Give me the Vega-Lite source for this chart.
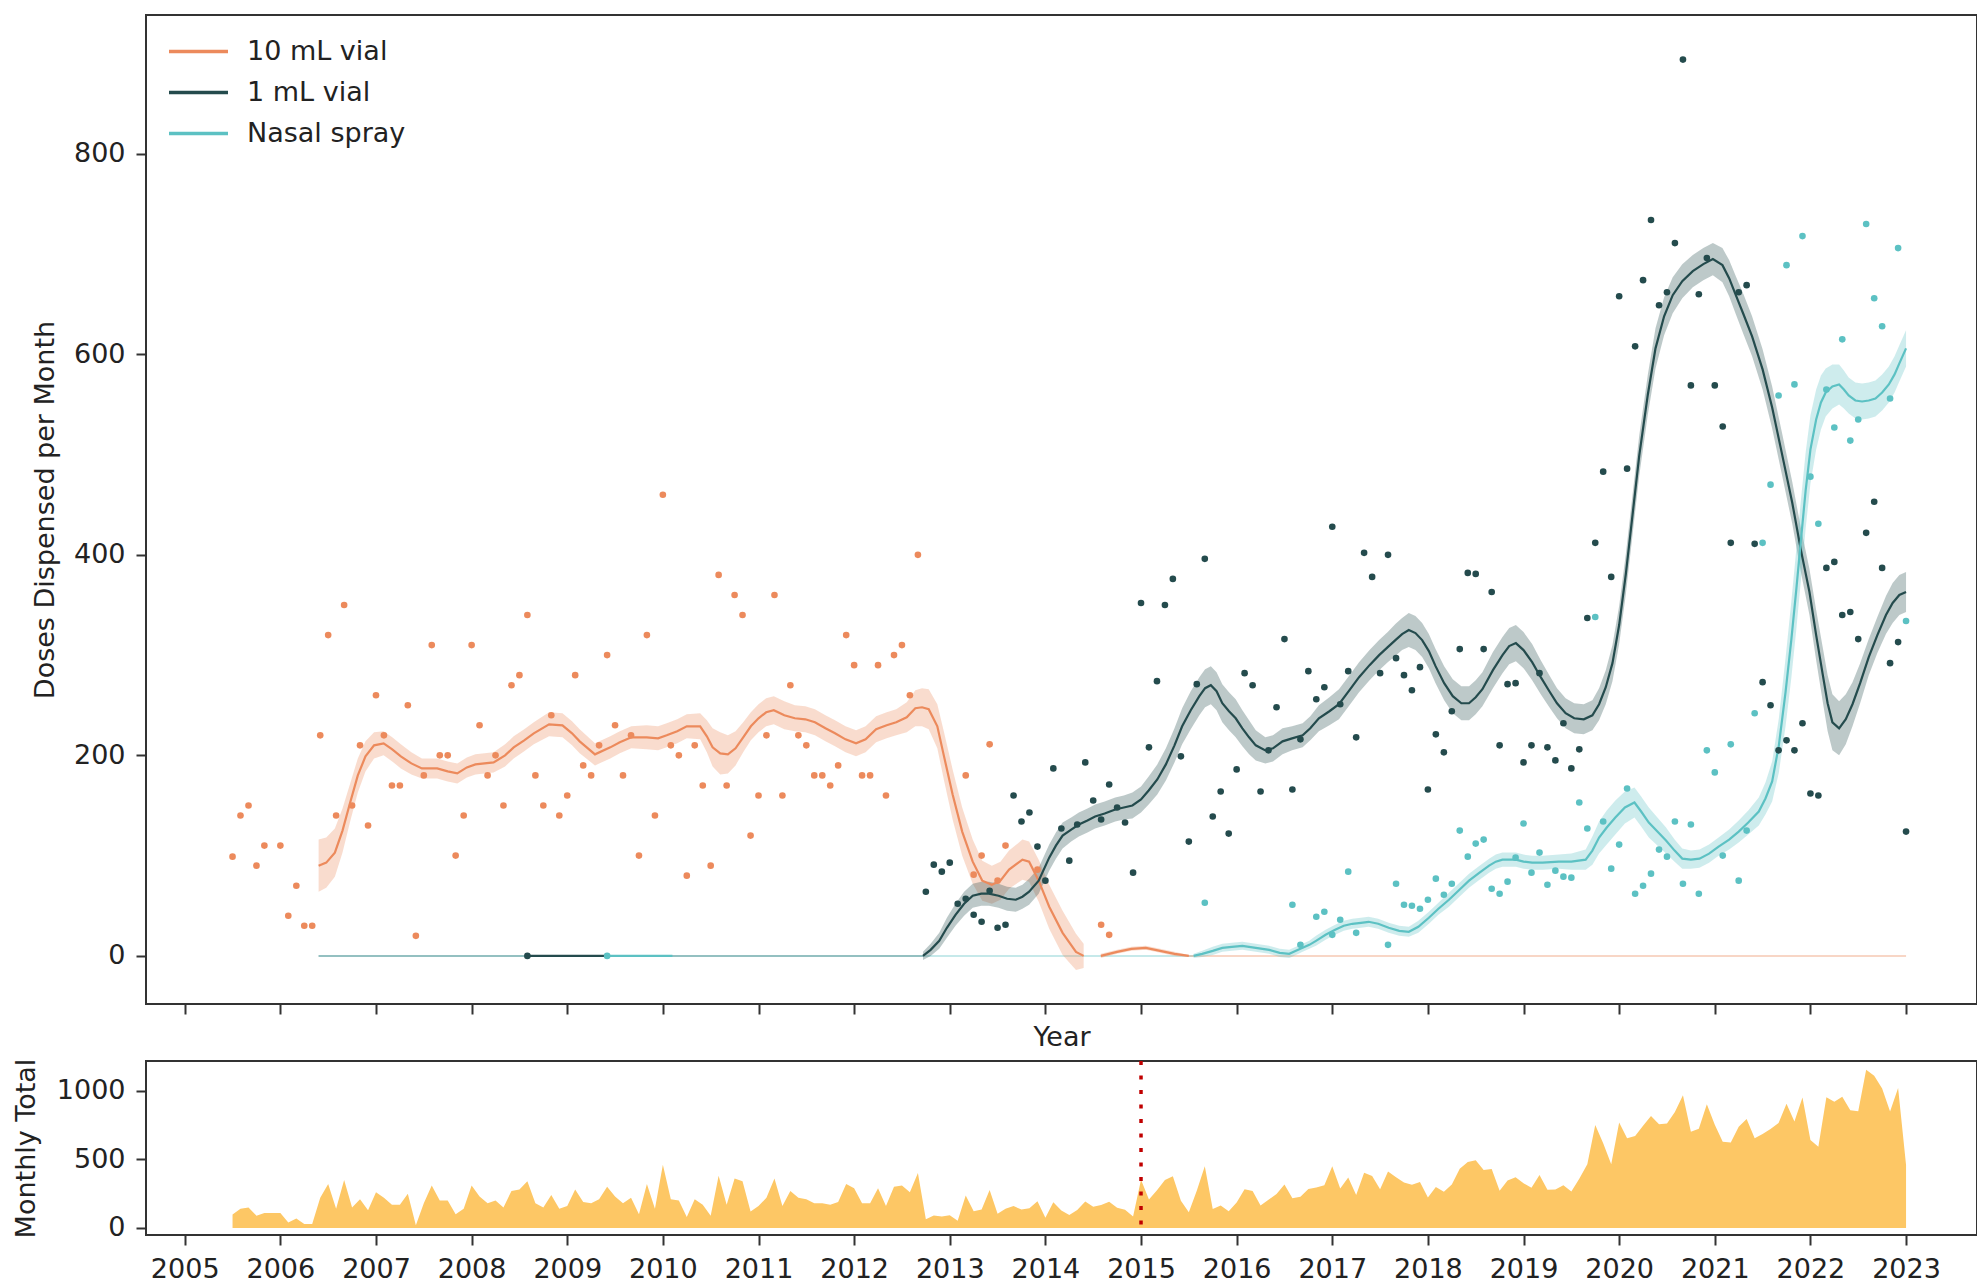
{
"$schema": "https://vega.github.io/schema/vega-lite/v6.json",
"background": "white",
"padding": {"left": 11, "top": 14, "right": 0, "bottom": 0},
"bounds": "flush",
"spacing": 57,
"datasets": {
"zeros": [
{"series": "1 mL vial", "t0": 2006.4, "t1": 2012.72},
{"series": "Nasal spray", "t0": 2006.4, "t1": 2015.55},
{"series": "10 mL vial", "t0": 2015.5, "t1": 2023.0}
],
"marker": [{"t": 2015}],
"points": [
{"series":"10 mL vial","t":2005.5,"v":99},{"series":"10 mL vial","t":2005.583,"v":140},{"series":"10 mL vial","t":2005.667,"v":150},{"series":"10 mL vial","t":2005.75,"v":90},{"series":"10 mL vial","t":2005.833,"v":110},{"series":"10 mL vial","t":2006,"v":110},{"series":"10 mL vial","t":2006.083,"v":40},{"series":"10 mL vial","t":2006.167,"v":70},{"series":"10 mL vial","t":2006.25,"v":30},{"series":"10 mL vial","t":2006.333,"v":30},{"series":"10 mL vial","t":2006.417,"v":220},{"series":"10 mL vial","t":2006.5,"v":320},{"series":"10 mL vial","t":2006.583,"v":140},{"series":"10 mL vial","t":2006.667,"v":350},{"series":"10 mL vial","t":2006.75,"v":150},{"series":"10 mL vial","t":2006.833,"v":210},{"series":"10 mL vial","t":2006.917,"v":130},
{"series":"10 mL vial","t":2007,"v":260},{"series":"10 mL vial","t":2007.083,"v":220},{"series":"10 mL vial","t":2007.167,"v":170},{"series":"10 mL vial","t":2007.25,"v":170},{"series":"10 mL vial","t":2007.333,"v":250},{"series":"10 mL vial","t":2007.417,"v":20},{"series":"10 mL vial","t":2007.5,"v":180},{"series":"10 mL vial","t":2007.583,"v":310},{"series":"10 mL vial","t":2007.667,"v":200},{"series":"10 mL vial","t":2007.75,"v":200},{"series":"10 mL vial","t":2007.833,"v":100},{"series":"10 mL vial","t":2007.917,"v":140},
{"series":"10 mL vial","t":2008,"v":310},{"series":"10 mL vial","t":2008.083,"v":230},{"series":"10 mL vial","t":2008.167,"v":180},{"series":"10 mL vial","t":2008.25,"v":200},{"series":"10 mL vial","t":2008.333,"v":150},{"series":"10 mL vial","t":2008.417,"v":270},{"series":"10 mL vial","t":2008.5,"v":280},{"series":"10 mL vial","t":2008.583,"v":340},{"series":"10 mL vial","t":2008.667,"v":180},{"series":"10 mL vial","t":2008.75,"v":150},{"series":"10 mL vial","t":2008.833,"v":240},{"series":"10 mL vial","t":2008.917,"v":140},
{"series":"10 mL vial","t":2009,"v":160},{"series":"10 mL vial","t":2009.083,"v":280},{"series":"10 mL vial","t":2009.167,"v":190},{"series":"10 mL vial","t":2009.25,"v":180},{"series":"10 mL vial","t":2009.333,"v":210},{"series":"10 mL vial","t":2009.417,"v":300},{"series":"10 mL vial","t":2009.5,"v":230},{"series":"10 mL vial","t":2009.583,"v":180},{"series":"10 mL vial","t":2009.667,"v":220},{"series":"10 mL vial","t":2009.75,"v":100},{"series":"10 mL vial","t":2009.833,"v":320},{"series":"10 mL vial","t":2009.917,"v":140},
{"series":"10 mL vial","t":2010,"v":460},{"series":"10 mL vial","t":2010.083,"v":210},{"series":"10 mL vial","t":2010.167,"v":200},{"series":"10 mL vial","t":2010.25,"v":80},{"series":"10 mL vial","t":2010.333,"v":210},{"series":"10 mL vial","t":2010.417,"v":170},{"series":"10 mL vial","t":2010.5,"v":90},{"series":"10 mL vial","t":2010.583,"v":380},{"series":"10 mL vial","t":2010.667,"v":170},{"series":"10 mL vial","t":2010.75,"v":360},{"series":"10 mL vial","t":2010.833,"v":340},{"series":"10 mL vial","t":2010.917,"v":120},
{"series":"10 mL vial","t":2011,"v":160},{"series":"10 mL vial","t":2011.083,"v":220},{"series":"10 mL vial","t":2011.167,"v":360},{"series":"10 mL vial","t":2011.25,"v":160},{"series":"10 mL vial","t":2011.333,"v":270},{"series":"10 mL vial","t":2011.417,"v":220},{"series":"10 mL vial","t":2011.5,"v":210},{"series":"10 mL vial","t":2011.583,"v":180},{"series":"10 mL vial","t":2011.667,"v":180},{"series":"10 mL vial","t":2011.75,"v":170},{"series":"10 mL vial","t":2011.833,"v":190},{"series":"10 mL vial","t":2011.917,"v":320},
{"series":"10 mL vial","t":2012,"v":290},{"series":"10 mL vial","t":2012.083,"v":180},{"series":"10 mL vial","t":2012.167,"v":180},{"series":"10 mL vial","t":2012.25,"v":290},{"series":"10 mL vial","t":2012.333,"v":160},{"series":"10 mL vial","t":2012.417,"v":300},{"series":"10 mL vial","t":2012.5,"v":310},{"series":"10 mL vial","t":2012.583,"v":260},{"series":"10 mL vial","t":2012.667,"v":400},
{"series":"10 mL vial","t":2013.167,"v":180},{"series":"10 mL vial","t":2013.25,"v":81},{"series":"10 mL vial","t":2013.333,"v":100},{"series":"10 mL vial","t":2013.417,"v":211},{"series":"10 mL vial","t":2013.5,"v":75},{"series":"10 mL vial","t":2013.583,"v":110},{"series":"10 mL vial","t":2013.917,"v":86},{"series":"10 mL vial","t":2014.583,"v":31},{"series":"10 mL vial","t":2014.667,"v":21},
{"series":"1 mL vial","t":2008.583,"v":0},
{"series":"1 mL vial","t":2012.75,"v":64},{"series":"1 mL vial","t":2012.833,"v":91},{"series":"1 mL vial","t":2012.917,"v":84},{"series":"1 mL vial","t":2013,"v":93},{"series":"1 mL vial","t":2013.083,"v":52},{"series":"1 mL vial","t":2013.167,"v":57},{"series":"1 mL vial","t":2013.25,"v":41},{"series":"1 mL vial","t":2013.333,"v":34},{"series":"1 mL vial","t":2013.417,"v":65},{"series":"1 mL vial","t":2013.5,"v":28},{"series":"1 mL vial","t":2013.583,"v":31},{"series":"1 mL vial","t":2013.667,"v":160},{"series":"1 mL vial","t":2013.75,"v":134},{"series":"1 mL vial","t":2013.833,"v":143},{"series":"1 mL vial","t":2013.917,"v":109},
{"series":"1 mL vial","t":2014,"v":75},{"series":"1 mL vial","t":2014.083,"v":187},{"series":"1 mL vial","t":2014.167,"v":127},{"series":"1 mL vial","t":2014.25,"v":95},{"series":"1 mL vial","t":2014.333,"v":131},{"series":"1 mL vial","t":2014.417,"v":193},{"series":"1 mL vial","t":2014.5,"v":155},{"series":"1 mL vial","t":2014.583,"v":136},{"series":"1 mL vial","t":2014.667,"v":171},{"series":"1 mL vial","t":2014.75,"v":148},{"series":"1 mL vial","t":2014.833,"v":133},{"series":"1 mL vial","t":2014.917,"v":83},
{"series":"1 mL vial","t":2015,"v":352},{"series":"1 mL vial","t":2015.083,"v":208},{"series":"1 mL vial","t":2015.167,"v":274},{"series":"1 mL vial","t":2015.25,"v":350},{"series":"1 mL vial","t":2015.333,"v":376},{"series":"1 mL vial","t":2015.417,"v":199},{"series":"1 mL vial","t":2015.5,"v":114},{"series":"1 mL vial","t":2015.583,"v":271},{"series":"1 mL vial","t":2015.667,"v":396},{"series":"1 mL vial","t":2015.75,"v":139},{"series":"1 mL vial","t":2015.833,"v":164},{"series":"1 mL vial","t":2015.917,"v":122},
{"series":"1 mL vial","t":2016,"v":186},{"series":"1 mL vial","t":2016.083,"v":282},{"series":"1 mL vial","t":2016.167,"v":270},{"series":"1 mL vial","t":2016.25,"v":164},{"series":"1 mL vial","t":2016.333,"v":205},{"series":"1 mL vial","t":2016.417,"v":248},{"series":"1 mL vial","t":2016.5,"v":316},{"series":"1 mL vial","t":2016.583,"v":166},{"series":"1 mL vial","t":2016.667,"v":216},{"series":"1 mL vial","t":2016.75,"v":284},{"series":"1 mL vial","t":2016.833,"v":256},{"series":"1 mL vial","t":2016.917,"v":268},
{"series":"1 mL vial","t":2017,"v":428},{"series":"1 mL vial","t":2017.083,"v":251},{"series":"1 mL vial","t":2017.167,"v":284},{"series":"1 mL vial","t":2017.25,"v":218},{"series":"1 mL vial","t":2017.333,"v":402},{"series":"1 mL vial","t":2017.417,"v":378},{"series":"1 mL vial","t":2017.5,"v":282},{"series":"1 mL vial","t":2017.583,"v":400},{"series":"1 mL vial","t":2017.667,"v":297},{"series":"1 mL vial","t":2017.75,"v":280},{"series":"1 mL vial","t":2017.833,"v":265},{"series":"1 mL vial","t":2017.917,"v":288},
{"series":"1 mL vial","t":2018,"v":166},{"series":"1 mL vial","t":2018.083,"v":221},{"series":"1 mL vial","t":2018.167,"v":203},{"series":"1 mL vial","t":2018.25,"v":244},{"series":"1 mL vial","t":2018.333,"v":306},{"series":"1 mL vial","t":2018.417,"v":382},{"series":"1 mL vial","t":2018.5,"v":381},{"series":"1 mL vial","t":2018.583,"v":306},{"series":"1 mL vial","t":2018.667,"v":363},{"series":"1 mL vial","t":2018.75,"v":210},{"series":"1 mL vial","t":2018.833,"v":271},{"series":"1 mL vial","t":2018.917,"v":272},
{"series":"1 mL vial","t":2019,"v":193},{"series":"1 mL vial","t":2019.083,"v":210},{"series":"1 mL vial","t":2019.167,"v":282},{"series":"1 mL vial","t":2019.25,"v":208},{"series":"1 mL vial","t":2019.333,"v":195},{"series":"1 mL vial","t":2019.417,"v":232},{"series":"1 mL vial","t":2019.5,"v":187},{"series":"1 mL vial","t":2019.583,"v":206},{"series":"1 mL vial","t":2019.667,"v":337},{"series":"1 mL vial","t":2019.75,"v":412},{"series":"1 mL vial","t":2019.833,"v":483},{"series":"1 mL vial","t":2019.917,"v":378},
{"series":"1 mL vial","t":2020,"v":658},{"series":"1 mL vial","t":2020.083,"v":486},{"series":"1 mL vial","t":2020.167,"v":608},{"series":"1 mL vial","t":2020.25,"v":674},{"series":"1 mL vial","t":2020.333,"v":734},{"series":"1 mL vial","t":2020.417,"v":649},{"series":"1 mL vial","t":2020.5,"v":662},{"series":"1 mL vial","t":2020.583,"v":711},{"series":"1 mL vial","t":2020.667,"v":894},{"series":"1 mL vial","t":2020.75,"v":569},{"series":"1 mL vial","t":2020.833,"v":660},{"series":"1 mL vial","t":2020.917,"v":696},
{"series":"1 mL vial","t":2021,"v":569},{"series":"1 mL vial","t":2021.083,"v":528},{"series":"1 mL vial","t":2021.167,"v":412},{"series":"1 mL vial","t":2021.25,"v":662},{"series":"1 mL vial","t":2021.333,"v":669},{"series":"1 mL vial","t":2021.417,"v":411},{"series":"1 mL vial","t":2021.5,"v":273},{"series":"1 mL vial","t":2021.583,"v":250},{"series":"1 mL vial","t":2021.667,"v":205},{"series":"1 mL vial","t":2021.75,"v":215},{"series":"1 mL vial","t":2021.833,"v":205},{"series":"1 mL vial","t":2021.917,"v":232},
{"series":"1 mL vial","t":2022,"v":162},{"series":"1 mL vial","t":2022.083,"v":160},{"series":"1 mL vial","t":2022.167,"v":387},{"series":"1 mL vial","t":2022.25,"v":393},{"series":"1 mL vial","t":2022.333,"v":340},{"series":"1 mL vial","t":2022.417,"v":343},{"series":"1 mL vial","t":2022.5,"v":316},{"series":"1 mL vial","t":2022.583,"v":422},{"series":"1 mL vial","t":2022.667,"v":453},{"series":"1 mL vial","t":2022.75,"v":387},{"series":"1 mL vial","t":2022.833,"v":292},{"series":"1 mL vial","t":2022.917,"v":313},{"series":"1 mL vial","t":2023,"v":124},
{"series":"Nasal spray","t":2009.417,"v":0},
{"series":"Nasal spray","t":2015.667,"v":53},{"series":"Nasal spray","t":2016.583,"v":51},{"series":"Nasal spray","t":2016.667,"v":11},{"series":"Nasal spray","t":2016.833,"v":39},{"series":"Nasal spray","t":2016.917,"v":44},
{"series":"Nasal spray","t":2017,"v":21},{"series":"Nasal spray","t":2017.083,"v":36},{"series":"Nasal spray","t":2017.167,"v":84},{"series":"Nasal spray","t":2017.25,"v":23},{"series":"Nasal spray","t":2017.583,"v":11},{"series":"Nasal spray","t":2017.667,"v":72},{"series":"Nasal spray","t":2017.75,"v":51},{"series":"Nasal spray","t":2017.833,"v":50},{"series":"Nasal spray","t":2017.917,"v":47},
{"series":"Nasal spray","t":2018,"v":56},{"series":"Nasal spray","t":2018.083,"v":77},{"series":"Nasal spray","t":2018.167,"v":61},{"series":"Nasal spray","t":2018.25,"v":72},{"series":"Nasal spray","t":2018.333,"v":125},{"series":"Nasal spray","t":2018.417,"v":99},{"series":"Nasal spray","t":2018.5,"v":112},{"series":"Nasal spray","t":2018.583,"v":116},{"series":"Nasal spray","t":2018.667,"v":67},{"series":"Nasal spray","t":2018.75,"v":62},{"series":"Nasal spray","t":2018.833,"v":74},{"series":"Nasal spray","t":2018.917,"v":98},
{"series":"Nasal spray","t":2019,"v":132},{"series":"Nasal spray","t":2019.083,"v":83},{"series":"Nasal spray","t":2019.167,"v":103},{"series":"Nasal spray","t":2019.25,"v":71},{"series":"Nasal spray","t":2019.333,"v":85},{"series":"Nasal spray","t":2019.417,"v":79},{"series":"Nasal spray","t":2019.5,"v":78},{"series":"Nasal spray","t":2019.583,"v":153},{"series":"Nasal spray","t":2019.667,"v":127},{"series":"Nasal spray","t":2019.75,"v":338},{"series":"Nasal spray","t":2019.833,"v":134},{"series":"Nasal spray","t":2019.917,"v":87},
{"series":"Nasal spray","t":2020,"v":111},{"series":"Nasal spray","t":2020.083,"v":167},{"series":"Nasal spray","t":2020.167,"v":62},{"series":"Nasal spray","t":2020.25,"v":70},{"series":"Nasal spray","t":2020.333,"v":82},{"series":"Nasal spray","t":2020.417,"v":106},{"series":"Nasal spray","t":2020.5,"v":99},{"series":"Nasal spray","t":2020.583,"v":134},{"series":"Nasal spray","t":2020.667,"v":72},{"series":"Nasal spray","t":2020.75,"v":131},{"series":"Nasal spray","t":2020.833,"v":62},{"series":"Nasal spray","t":2020.917,"v":205},
{"series":"Nasal spray","t":2021,"v":183},{"series":"Nasal spray","t":2021.083,"v":100},{"series":"Nasal spray","t":2021.167,"v":211},{"series":"Nasal spray","t":2021.25,"v":75},{"series":"Nasal spray","t":2021.333,"v":125},{"series":"Nasal spray","t":2021.417,"v":242},{"series":"Nasal spray","t":2021.5,"v":412},{"series":"Nasal spray","t":2021.583,"v":470},{"series":"Nasal spray","t":2021.667,"v":559},{"series":"Nasal spray","t":2021.75,"v":689},{"series":"Nasal spray","t":2021.833,"v":570},{"series":"Nasal spray","t":2021.917,"v":718},
{"series":"Nasal spray","t":2022,"v":478},{"series":"Nasal spray","t":2022.083,"v":431},{"series":"Nasal spray","t":2022.167,"v":565},{"series":"Nasal spray","t":2022.25,"v":527},{"series":"Nasal spray","t":2022.333,"v":615},{"series":"Nasal spray","t":2022.417,"v":514},{"series":"Nasal spray","t":2022.5,"v":535},{"series":"Nasal spray","t":2022.583,"v":730},{"series":"Nasal spray","t":2022.667,"v":656},{"series":"Nasal spray","t":2022.75,"v":628},{"series":"Nasal spray","t":2022.833,"v":556},{"series":"Nasal spray","t":2022.917,"v":706},{"series":"Nasal spray","t":2023,"v":334}
],
"smooth": [
{"series":"10 mL vial","seg":"a","t":2006.4,"y":90,"lo":64,"hi":116},{"series":"10 mL vial","seg":"a","t":2006.48,"y":93,"lo":68,"hi":118},{"series":"10 mL vial","seg":"a","t":2006.57,"y":103,"lo":79,"hi":127},{"series":"10 mL vial","seg":"a","t":2006.65,"y":125,"lo":103,"hi":147},{"series":"10 mL vial","seg":"a","t":2006.73,"y":153,"lo":134,"hi":172},{"series":"10 mL vial","seg":"a","t":2006.81,"y":180,"lo":163,"hi":197},{"series":"10 mL vial","seg":"a","t":2006.89,"y":199,"lo":184,"hi":214},{"series":"10 mL vial","seg":"a","t":2006.98,"y":210,"lo":197,"hi":223},{"series":"10 mL vial","seg":"a","t":2007.08,"y":212,"lo":200,"hi":224},{"series":"10 mL vial","seg":"a","t":2007.17,"y":206,"lo":194,"hi":218},{"series":"10 mL vial","seg":"a","t":2007.26,"y":199,"lo":187,"hi":211},{"series":"10 mL vial","seg":"a","t":2007.37,"y":192,"lo":181,"hi":203},{"series":"10 mL vial","seg":"a","t":2007.48,"y":187,"lo":177,"hi":197},{"series":"10 mL vial","seg":"a","t":2007.64,"y":187,"lo":177,"hi":197},{"series":"10 mL vial","seg":"a","t":2007.75,"y":184,"lo":174,"hi":194},{"series":"10 mL vial","seg":"a","t":2007.85,"y":182,"lo":172,"hi":192},{"series":"10 mL vial","seg":"a","t":2007.95,"y":188,"lo":178,"hi":198},{"series":"10 mL vial","seg":"a","t":2008.04,"y":191,"lo":181,"hi":201},{"series":"10 mL vial","seg":"a","t":2008.23,"y":193,"lo":183,"hi":203},{"series":"10 mL vial","seg":"a","t":2008.35,"y":200,"lo":189,"hi":211},{"series":"10 mL vial","seg":"a","t":2008.44,"y":208,"lo":197,"hi":219},{"series":"10 mL vial","seg":"a","t":2008.55,"y":215,"lo":204,"hi":226},{"series":"10 mL vial","seg":"a","t":2008.65,"y":222,"lo":211,"hi":233},{"series":"10 mL vial","seg":"a","t":2008.81,"y":231,"lo":219,"hi":243},{"series":"10 mL vial","seg":"a","t":2008.95,"y":230,"lo":218,"hi":242},{"series":"10 mL vial","seg":"a","t":2009.05,"y":222,"lo":210,"hi":234},{"series":"10 mL vial","seg":"a","t":2009.13,"y":214,"lo":202,"hi":226},{"series":"10 mL vial","seg":"a","t":2009.29,"y":201,"lo":190,"hi":212},{"series":"10 mL vial","seg":"a","t":2009.45,"y":208,"lo":197,"hi":219},{"series":"10 mL vial","seg":"a","t":2009.55,"y":213,"lo":202,"hi":224},{"series":"10 mL vial","seg":"a","t":2009.67,"y":218,"lo":207,"hi":229},{"series":"10 mL vial","seg":"a","t":2009.83,"y":218,"lo":206,"hi":230},{"series":"10 mL vial","seg":"a","t":2009.95,"y":217,"lo":205,"hi":229},{"series":"10 mL vial","seg":"a","t":2010.04,"y":220,"lo":208,"hi":232},{"series":"10 mL vial","seg":"a","t":2010.15,"y":224,"lo":212,"hi":236},{"series":"10 mL vial","seg":"a","t":2010.25,"y":229,"lo":217,"hi":241},{"series":"10 mL vial","seg":"a","t":2010.39,"y":229,"lo":216,"hi":242},{"series":"10 mL vial","seg":"a","t":2010.46,"y":219,"lo":203,"hi":235},{"series":"10 mL vial","seg":"a","t":2010.52,"y":208,"lo":189,"hi":227},{"series":"10 mL vial","seg":"a","t":2010.6,"y":202,"lo":181,"hi":223},{"series":"10 mL vial","seg":"a","t":2010.68,"y":201,"lo":182,"hi":220},{"series":"10 mL vial","seg":"a","t":2010.76,"y":207,"lo":190,"hi":224},{"series":"10 mL vial","seg":"a","t":2010.84,"y":218,"lo":203,"hi":233},{"series":"10 mL vial","seg":"a","t":2010.92,"y":229,"lo":215,"hi":243},{"series":"10 mL vial","seg":"a","t":2011.0,"y":237,"lo":223,"hi":251},{"series":"10 mL vial","seg":"a","t":2011.08,"y":243,"lo":229,"hi":257},{"series":"10 mL vial","seg":"a","t":2011.16,"y":245,"lo":231,"hi":259},{"series":"10 mL vial","seg":"a","t":2011.27,"y":240,"lo":226,"hi":254},{"series":"10 mL vial","seg":"a","t":2011.38,"y":237,"lo":224,"hi":250},{"series":"10 mL vial","seg":"a","t":2011.49,"y":236,"lo":223,"hi":249},{"series":"10 mL vial","seg":"a","t":2011.59,"y":233,"lo":220,"hi":246},{"series":"10 mL vial","seg":"a","t":2011.7,"y":227,"lo":214,"hi":240},{"series":"10 mL vial","seg":"a","t":2011.8,"y":222,"lo":209,"hi":235},{"series":"10 mL vial","seg":"a","t":2011.91,"y":216,"lo":203,"hi":229},{"series":"10 mL vial","seg":"a","t":2012.02,"y":212,"lo":199,"hi":225},{"series":"10 mL vial","seg":"a","t":2012.12,"y":216,"lo":203,"hi":229},{"series":"10 mL vial","seg":"a","t":2012.23,"y":226,"lo":213,"hi":239},{"series":"10 mL vial","seg":"a","t":2012.34,"y":230,"lo":217,"hi":243},{"series":"10 mL vial","seg":"a","t":2012.44,"y":233,"lo":220,"hi":246},{"series":"10 mL vial","seg":"a","t":2012.55,"y":238,"lo":223,"hi":253},{"series":"10 mL vial","seg":"a","t":2012.64,"y":247,"lo":229,"hi":265},{"series":"10 mL vial","seg":"a","t":2012.71,"y":248,"lo":229,"hi":267},{"series":"10 mL vial","seg":"a","t":2012.78,"y":246,"lo":226,"hi":266},{"series":"10 mL vial","seg":"a","t":2012.87,"y":229,"lo":207,"hi":251},{"series":"10 mL vial","seg":"a","t":2012.94,"y":199,"lo":175,"hi":223},{"series":"10 mL vial","seg":"a","t":2013.03,"y":161,"lo":136,"hi":186},{"series":"10 mL vial","seg":"a","t":2013.13,"y":124,"lo":100,"hi":148},{"series":"10 mL vial","seg":"a","t":2013.24,"y":94,"lo":72,"hi":116},{"series":"10 mL vial","seg":"a","t":2013.34,"y":75,"lo":55,"hi":95},{"series":"10 mL vial","seg":"a","t":2013.44,"y":71,"lo":52,"hi":90},{"series":"10 mL vial","seg":"a","t":2013.53,"y":75,"lo":56,"hi":94},{"series":"10 mL vial","seg":"a","t":2013.62,"y":86,"lo":67,"hi":105},{"series":"10 mL vial","seg":"a","t":2013.76,"y":96,"lo":76,"hi":116},{"series":"10 mL vial","seg":"a","t":2013.83,"y":94,"lo":74,"hi":114},{"series":"10 mL vial","seg":"a","t":2013.93,"y":75,"lo":54,"hi":96},{"series":"10 mL vial","seg":"a","t":2014.04,"y":49,"lo":27,"hi":71},{"series":"10 mL vial","seg":"a","t":2014.18,"y":23,"lo":1,"hi":45},{"series":"10 mL vial","seg":"a","t":2014.32,"y":4,"lo":-14,"hi":22},{"series":"10 mL vial","seg":"a","t":2014.4,"y":0,"lo":-12,"hi":12},
{"series":"10 mL vial","seg":"b","t":2014.58,"y":0,"lo":-2,"hi":2},{"series":"10 mL vial","seg":"b","t":2014.75,"y":4,"lo":2,"hi":6},{"series":"10 mL vial","seg":"b","t":2014.9,"y":7,"lo":5,"hi":9},{"series":"10 mL vial","seg":"b","t":2015.05,"y":8,"lo":6,"hi":10},{"series":"10 mL vial","seg":"b","t":2015.2,"y":5,"lo":3,"hi":7},{"series":"10 mL vial","seg":"b","t":2015.35,"y":2,"lo":0,"hi":4},{"series":"10 mL vial","seg":"b","t":2015.5,"y":0,"lo":-1,"hi":1},
{"series":"1 mL vial","seg":"z","t":2008.583,"y":0,"lo":0,"hi":0},{"series":"1 mL vial","seg":"z","t":2009.417,"y":0,"lo":0,"hi":0},
{"series":"1 mL vial","seg":"a","t":2012.72,"y":0,"lo":-4,"hi":4},{"series":"1 mL vial","seg":"a","t":2012.8,"y":6,"lo":0,"hi":12},{"series":"1 mL vial","seg":"a","t":2012.89,"y":15,"lo":7,"hi":23},{"series":"1 mL vial","seg":"a","t":2012.97,"y":28,"lo":18,"hi":38},{"series":"1 mL vial","seg":"a","t":2013.06,"y":41,"lo":30,"hi":52},{"series":"1 mL vial","seg":"a","t":2013.15,"y":52,"lo":40,"hi":64},{"series":"1 mL vial","seg":"a","t":2013.24,"y":60,"lo":48,"hi":72},{"series":"1 mL vial","seg":"a","t":2013.33,"y":62,"lo":50,"hi":74},{"series":"1 mL vial","seg":"a","t":2013.41,"y":62,"lo":50,"hi":74},{"series":"1 mL vial","seg":"a","t":2013.51,"y":60,"lo":48,"hi":72},{"series":"1 mL vial","seg":"a","t":2013.6,"y":57,"lo":45,"hi":69},{"series":"1 mL vial","seg":"a","t":2013.69,"y":56,"lo":44,"hi":68},{"series":"1 mL vial","seg":"a","t":2013.76,"y":59,"lo":47,"hi":71},{"series":"1 mL vial","seg":"a","t":2013.83,"y":64,"lo":51,"hi":77},{"series":"1 mL vial","seg":"a","t":2013.93,"y":75,"lo":62,"hi":88},{"series":"1 mL vial","seg":"a","t":2014.04,"y":98,"lo":85,"hi":111},{"series":"1 mL vial","seg":"a","t":2014.11,"y":110,"lo":97,"hi":123},{"series":"1 mL vial","seg":"a","t":2014.18,"y":120,"lo":107,"hi":133},{"series":"1 mL vial","seg":"a","t":2014.27,"y":126,"lo":114,"hi":138},{"series":"1 mL vial","seg":"a","t":2014.35,"y":131,"lo":119,"hi":143},{"series":"1 mL vial","seg":"a","t":2014.44,"y":135,"lo":123,"hi":147},{"series":"1 mL vial","seg":"a","t":2014.52,"y":139,"lo":127,"hi":151},{"series":"1 mL vial","seg":"a","t":2014.62,"y":142,"lo":130,"hi":154},{"series":"1 mL vial","seg":"a","t":2014.73,"y":146,"lo":134,"hi":158},{"series":"1 mL vial","seg":"a","t":2014.82,"y":148,"lo":136,"hi":160},{"series":"1 mL vial","seg":"a","t":2014.91,"y":150,"lo":137,"hi":163},{"series":"1 mL vial","seg":"a","t":2015.0,"y":156,"lo":143,"hi":169},{"series":"1 mL vial","seg":"a","t":2015.08,"y":165,"lo":151,"hi":179},{"series":"1 mL vial","seg":"a","t":2015.17,"y":176,"lo":161,"hi":191},{"series":"1 mL vial","seg":"a","t":2015.26,"y":191,"lo":175,"hi":207},{"series":"1 mL vial","seg":"a","t":2015.35,"y":210,"lo":193,"hi":227},{"series":"1 mL vial","seg":"a","t":2015.43,"y":229,"lo":211,"hi":247},{"series":"1 mL vial","seg":"a","t":2015.52,"y":245,"lo":226,"hi":264},{"series":"1 mL vial","seg":"a","t":2015.61,"y":259,"lo":240,"hi":278},{"series":"1 mL vial","seg":"a","t":2015.67,"y":267,"lo":248,"hi":286},{"series":"1 mL vial","seg":"a","t":2015.73,"y":270,"lo":251,"hi":289},{"series":"1 mL vial","seg":"a","t":2015.79,"y":264,"lo":245,"hi":283},{"series":"1 mL vial","seg":"a","t":2015.85,"y":252,"lo":233,"hi":271},{"series":"1 mL vial","seg":"a","t":2015.92,"y":244,"lo":225,"hi":263},{"series":"1 mL vial","seg":"a","t":2015.99,"y":237,"lo":218,"hi":256},{"series":"1 mL vial","seg":"a","t":2016.06,"y":227,"lo":209,"hi":245},{"series":"1 mL vial","seg":"a","t":2016.13,"y":218,"lo":201,"hi":235},{"series":"1 mL vial","seg":"a","t":2016.2,"y":210,"lo":195,"hi":225},{"series":"1 mL vial","seg":"a","t":2016.3,"y":205,"lo":192,"hi":218},{"series":"1 mL vial","seg":"a","t":2016.38,"y":207,"lo":194,"hi":220},{"series":"1 mL vial","seg":"a","t":2016.48,"y":214,"lo":201,"hi":227},{"series":"1 mL vial","seg":"a","t":2016.58,"y":217,"lo":205,"hi":229},{"series":"1 mL vial","seg":"a","t":2016.69,"y":220,"lo":208,"hi":232},{"series":"1 mL vial","seg":"a","t":2016.77,"y":227,"lo":215,"hi":239},{"series":"1 mL vial","seg":"a","t":2016.86,"y":237,"lo":224,"hi":250},{"series":"1 mL vial","seg":"a","t":2016.97,"y":244,"lo":230,"hi":258},{"series":"1 mL vial","seg":"a","t":2017.07,"y":251,"lo":236,"hi":266},{"series":"1 mL vial","seg":"a","t":2017.18,"y":265,"lo":250,"hi":280},{"series":"1 mL vial","seg":"a","t":2017.28,"y":278,"lo":263,"hi":293},{"series":"1 mL vial","seg":"a","t":2017.39,"y":290,"lo":275,"hi":305},{"series":"1 mL vial","seg":"a","t":2017.49,"y":300,"lo":285,"hi":315},{"series":"1 mL vial","seg":"a","t":2017.58,"y":308,"lo":293,"hi":323},{"series":"1 mL vial","seg":"a","t":2017.66,"y":315,"lo":299,"hi":331},{"series":"1 mL vial","seg":"a","t":2017.73,"y":321,"lo":305,"hi":337},{"series":"1 mL vial","seg":"a","t":2017.8,"y":325,"lo":308,"hi":342},{"series":"1 mL vial","seg":"a","t":2017.87,"y":322,"lo":305,"hi":339},{"series":"1 mL vial","seg":"a","t":2017.94,"y":315,"lo":298,"hi":332},{"series":"1 mL vial","seg":"a","t":2018.01,"y":304,"lo":287,"hi":321},{"series":"1 mL vial","seg":"a","t":2018.08,"y":289,"lo":272,"hi":306},{"series":"1 mL vial","seg":"a","t":2018.17,"y":272,"lo":255,"hi":289},{"series":"1 mL vial","seg":"a","t":2018.26,"y":259,"lo":242,"hi":276},{"series":"1 mL vial","seg":"a","t":2018.35,"y":252,"lo":235,"hi":269},{"series":"1 mL vial","seg":"a","t":2018.43,"y":252,"lo":235,"hi":269},{"series":"1 mL vial","seg":"a","t":2018.5,"y":258,"lo":241,"hi":275},{"series":"1 mL vial","seg":"a","t":2018.57,"y":266,"lo":249,"hi":283},{"series":"1 mL vial","seg":"a","t":2018.68,"y":285,"lo":267,"hi":303},{"series":"1 mL vial","seg":"a","t":2018.78,"y":300,"lo":282,"hi":318},{"series":"1 mL vial","seg":"a","t":2018.85,"y":309,"lo":291,"hi":327},{"series":"1 mL vial","seg":"a","t":2018.92,"y":312,"lo":294,"hi":330},{"series":"1 mL vial","seg":"a","t":2019.0,"y":305,"lo":287,"hi":323},{"series":"1 mL vial","seg":"a","t":2019.09,"y":293,"lo":275,"hi":311},{"series":"1 mL vial","seg":"a","t":2019.18,"y":278,"lo":261,"hi":295},{"series":"1 mL vial","seg":"a","t":2019.27,"y":264,"lo":248,"hi":280},{"series":"1 mL vial","seg":"a","t":2019.35,"y":252,"lo":237,"hi":267},{"series":"1 mL vial","seg":"a","t":2019.44,"y":242,"lo":227,"hi":257},{"series":"1 mL vial","seg":"a","t":2019.53,"y":237,"lo":222,"hi":252},{"series":"1 mL vial","seg":"a","t":2019.63,"y":236,"lo":221,"hi":251},{"series":"1 mL vial","seg":"a","t":2019.72,"y":240,"lo":225,"hi":255},{"series":"1 mL vial","seg":"a","t":2019.79,"y":251,"lo":235,"hi":267},{"series":"1 mL vial","seg":"a","t":2019.86,"y":268,"lo":251,"hi":285},{"series":"1 mL vial","seg":"a","t":2019.93,"y":292,"lo":274,"hi":310},{"series":"1 mL vial","seg":"a","t":2020.0,"y":330,"lo":311,"hi":349},{"series":"1 mL vial","seg":"a","t":2020.07,"y":381,"lo":361,"hi":401},{"series":"1 mL vial","seg":"a","t":2020.14,"y":440,"lo":420,"hi":460},{"series":"1 mL vial","seg":"a","t":2020.21,"y":499,"lo":479,"hi":519},{"series":"1 mL vial","seg":"a","t":2020.3,"y":560,"lo":540,"hi":580},{"series":"1 mL vial","seg":"a","t":2020.38,"y":606,"lo":586,"hi":626},{"series":"1 mL vial","seg":"a","t":2020.47,"y":638,"lo":619,"hi":657},{"series":"1 mL vial","seg":"a","t":2020.56,"y":659,"lo":641,"hi":677},{"series":"1 mL vial","seg":"a","t":2020.66,"y":673,"lo":656,"hi":690},{"series":"1 mL vial","seg":"a","t":2020.77,"y":683,"lo":667,"hi":699},{"series":"1 mL vial","seg":"a","t":2020.88,"y":690,"lo":674,"hi":706},{"series":"1 mL vial","seg":"a","t":2020.98,"y":695,"lo":679,"hi":711},{"series":"1 mL vial","seg":"a","t":2021.08,"y":689,"lo":672,"hi":706},{"series":"1 mL vial","seg":"a","t":2021.15,"y":676,"lo":658,"hi":694},{"series":"1 mL vial","seg":"a","t":2021.22,"y":659,"lo":640,"hi":678},{"series":"1 mL vial","seg":"a","t":2021.3,"y":640,"lo":620,"hi":660},{"series":"1 mL vial","seg":"a","t":2021.39,"y":618,"lo":598,"hi":638},{"series":"1 mL vial","seg":"a","t":2021.5,"y":585,"lo":565,"hi":605},{"series":"1 mL vial","seg":"a","t":2021.6,"y":547,"lo":526,"hi":568},{"series":"1 mL vial","seg":"a","t":2021.7,"y":502,"lo":481,"hi":523},{"series":"1 mL vial","seg":"a","t":2021.81,"y":452,"lo":431,"hi":473},{"series":"1 mL vial","seg":"a","t":2021.9,"y":405,"lo":383,"hi":427},{"series":"1 mL vial","seg":"a","t":2021.99,"y":363,"lo":340,"hi":386},{"series":"1 mL vial","seg":"a","t":2022.06,"y":320,"lo":295,"hi":345},{"series":"1 mL vial","seg":"a","t":2022.13,"y":280,"lo":253,"hi":307},{"series":"1 mL vial","seg":"a","t":2022.18,"y":252,"lo":224,"hi":280},{"series":"1 mL vial","seg":"a","t":2022.23,"y":233,"lo":205,"hi":261},{"series":"1 mL vial","seg":"a","t":2022.3,"y":227,"lo":200,"hi":254},{"series":"1 mL vial","seg":"a","t":2022.37,"y":236,"lo":211,"hi":261},{"series":"1 mL vial","seg":"a","t":2022.44,"y":251,"lo":229,"hi":273},{"series":"1 mL vial","seg":"a","t":2022.52,"y":272,"lo":252,"hi":292},{"series":"1 mL vial","seg":"a","t":2022.61,"y":298,"lo":280,"hi":316},{"series":"1 mL vial","seg":"a","t":2022.7,"y":320,"lo":302,"hi":338},{"series":"1 mL vial","seg":"a","t":2022.79,"y":340,"lo":321,"hi":359},{"series":"1 mL vial","seg":"a","t":2022.86,"y":352,"lo":332,"hi":372},{"series":"1 mL vial","seg":"a","t":2022.93,"y":360,"lo":340,"hi":380},{"series":"1 mL vial","seg":"a","t":2023.0,"y":363,"lo":343,"hi":383},
{"series":"Nasal spray","seg":"z","t":2009.417,"y":0,"lo":0,"hi":0},{"series":"Nasal spray","seg":"z","t":2010.1,"y":0,"lo":0,"hi":0},
{"series":"Nasal spray","seg":"a","t":2015.55,"y":0,"lo":-2,"hi":2},{"series":"Nasal spray","seg":"a","t":2015.64,"y":2,"lo":-1,"hi":5},{"series":"Nasal spray","seg":"a","t":2015.75,"y":5,"lo":1,"hi":9},{"series":"Nasal spray","seg":"a","t":2015.85,"y":8,"lo":4,"hi":12},{"series":"Nasal spray","seg":"a","t":2015.95,"y":9,"lo":5,"hi":13},{"series":"Nasal spray","seg":"a","t":2016.06,"y":10,"lo":6,"hi":14},{"series":"Nasal spray","seg":"a","t":2016.2,"y":8,"lo":4,"hi":12},{"series":"Nasal spray","seg":"a","t":2016.34,"y":6,"lo":2,"hi":10},{"series":"Nasal spray","seg":"a","t":2016.45,"y":3,"lo":-1,"hi":7},{"series":"Nasal spray","seg":"a","t":2016.55,"y":2,"lo":-2,"hi":6},{"series":"Nasal spray","seg":"a","t":2016.62,"y":5,"lo":1,"hi":9},{"series":"Nasal spray","seg":"a","t":2016.69,"y":8,"lo":4,"hi":12},{"series":"Nasal spray","seg":"a","t":2016.76,"y":11,"lo":7,"hi":15},{"series":"Nasal spray","seg":"a","t":2016.83,"y":15,"lo":10,"hi":20},{"series":"Nasal spray","seg":"a","t":2016.93,"y":21,"lo":16,"hi":26},{"series":"Nasal spray","seg":"a","t":2017.03,"y":26,"lo":21,"hi":31},{"series":"Nasal spray","seg":"a","t":2017.12,"y":30,"lo":25,"hi":35},{"series":"Nasal spray","seg":"a","t":2017.21,"y":32,"lo":27,"hi":37},{"series":"Nasal spray","seg":"a","t":2017.3,"y":33,"lo":28,"hi":38},{"series":"Nasal spray","seg":"a","t":2017.38,"y":34,"lo":29,"hi":39},{"series":"Nasal spray","seg":"a","t":2017.48,"y":32,"lo":27,"hi":37},{"series":"Nasal spray","seg":"a","t":2017.59,"y":28,"lo":23,"hi":33},{"series":"Nasal spray","seg":"a","t":2017.7,"y":25,"lo":20,"hi":30},{"series":"Nasal spray","seg":"a","t":2017.8,"y":24,"lo":19,"hi":29},{"series":"Nasal spray","seg":"a","t":2017.9,"y":29,"lo":23,"hi":35},{"series":"Nasal spray","seg":"a","t":2018.01,"y":38,"lo":32,"hi":44},{"series":"Nasal spray","seg":"a","t":2018.11,"y":47,"lo":41,"hi":53},{"series":"Nasal spray","seg":"a","t":2018.22,"y":56,"lo":49,"hi":63},{"series":"Nasal spray","seg":"a","t":2018.33,"y":66,"lo":59,"hi":73},{"series":"Nasal spray","seg":"a","t":2018.43,"y":75,"lo":68,"hi":82},{"series":"Nasal spray","seg":"a","t":2018.54,"y":83,"lo":76,"hi":90},{"series":"Nasal spray","seg":"a","t":2018.64,"y":90,"lo":83,"hi":97},{"series":"Nasal spray","seg":"a","t":2018.71,"y":94,"lo":87,"hi":101},{"series":"Nasal spray","seg":"a","t":2018.78,"y":96,"lo":89,"hi":103},{"series":"Nasal spray","seg":"a","t":2018.85,"y":96,"lo":89,"hi":103},{"series":"Nasal spray","seg":"a","t":2018.92,"y":96,"lo":89,"hi":103},{"series":"Nasal spray","seg":"a","t":2019.0,"y":94,"lo":87,"hi":101},{"series":"Nasal spray","seg":"a","t":2019.09,"y":93,"lo":86,"hi":100},{"series":"Nasal spray","seg":"a","t":2019.2,"y":93,"lo":86,"hi":100},{"series":"Nasal spray","seg":"a","t":2019.37,"y":94,"lo":87,"hi":101},{"series":"Nasal spray","seg":"a","t":2019.5,"y":94,"lo":86,"hi":102},{"series":"Nasal spray","seg":"a","t":2019.65,"y":96,"lo":86,"hi":106},{"series":"Nasal spray","seg":"a","t":2019.72,"y":105,"lo":91,"hi":119},{"series":"Nasal spray","seg":"a","t":2019.79,"y":118,"lo":102,"hi":134},{"series":"Nasal spray","seg":"a","t":2019.87,"y":128,"lo":111,"hi":145},{"series":"Nasal spray","seg":"a","t":2019.96,"y":138,"lo":121,"hi":155},{"series":"Nasal spray","seg":"a","t":2020.06,"y":148,"lo":132,"hi":164},{"series":"Nasal spray","seg":"a","t":2020.16,"y":153,"lo":138,"hi":168},{"series":"Nasal spray","seg":"a","t":2020.23,"y":144,"lo":129,"hi":159},{"series":"Nasal spray","seg":"a","t":2020.31,"y":133,"lo":118,"hi":148},{"series":"Nasal spray","seg":"a","t":2020.4,"y":124,"lo":110,"hi":138},{"series":"Nasal spray","seg":"a","t":2020.49,"y":115,"lo":102,"hi":128},{"series":"Nasal spray","seg":"a","t":2020.58,"y":105,"lo":94,"hi":116},{"series":"Nasal spray","seg":"a","t":2020.66,"y":97,"lo":87,"hi":107},{"series":"Nasal spray","seg":"a","t":2020.75,"y":96,"lo":87,"hi":105},{"series":"Nasal spray","seg":"a","t":2020.84,"y":97,"lo":88,"hi":106},{"series":"Nasal spray","seg":"a","t":2020.94,"y":102,"lo":93,"hi":111},{"series":"Nasal spray","seg":"a","t":2021.04,"y":109,"lo":100,"hi":118},{"series":"Nasal spray","seg":"a","t":2021.15,"y":116,"lo":106,"hi":126},{"series":"Nasal spray","seg":"a","t":2021.25,"y":124,"lo":113,"hi":135},{"series":"Nasal spray","seg":"a","t":2021.35,"y":133,"lo":121,"hi":145},{"series":"Nasal spray","seg":"a","t":2021.46,"y":144,"lo":130,"hi":158},{"series":"Nasal spray","seg":"a","t":2021.53,"y":157,"lo":141,"hi":173},{"series":"Nasal spray","seg":"a","t":2021.6,"y":174,"lo":154,"hi":194},{"series":"Nasal spray","seg":"a","t":2021.67,"y":210,"lo":183,"hi":237},{"series":"Nasal spray","seg":"a","t":2021.74,"y":263,"lo":229,"hi":297},{"series":"Nasal spray","seg":"a","t":2021.8,"y":315,"lo":277,"hi":353},{"series":"Nasal spray","seg":"a","t":2021.85,"y":363,"lo":323,"hi":403},{"series":"Nasal spray","seg":"a","t":2021.9,"y":414,"lo":374,"hi":454},{"series":"Nasal spray","seg":"a","t":2021.95,"y":464,"lo":426,"hi":502},{"series":"Nasal spray","seg":"a","t":2022.0,"y":505,"lo":471,"hi":539},{"series":"Nasal spray","seg":"a","t":2022.06,"y":535,"lo":505,"hi":565},{"series":"Nasal spray","seg":"a","t":2022.11,"y":552,"lo":525,"hi":579},{"series":"Nasal spray","seg":"a","t":2022.16,"y":562,"lo":538,"hi":586},{"series":"Nasal spray","seg":"a","t":2022.23,"y":568,"lo":546,"hi":590},{"series":"Nasal spray","seg":"a","t":2022.3,"y":570,"lo":550,"hi":590},{"series":"Nasal spray","seg":"a","t":2022.35,"y":565,"lo":546,"hi":584},{"series":"Nasal spray","seg":"a","t":2022.4,"y":559,"lo":541,"hi":577},{"series":"Nasal spray","seg":"a","t":2022.47,"y":554,"lo":536,"hi":572},{"series":"Nasal spray","seg":"a","t":2022.54,"y":553,"lo":535,"hi":571},{"series":"Nasal spray","seg":"a","t":2022.61,"y":554,"lo":536,"hi":572},{"series":"Nasal spray","seg":"a","t":2022.68,"y":556,"lo":538,"hi":574},{"series":"Nasal spray","seg":"a","t":2022.75,"y":562,"lo":544,"hi":580},{"series":"Nasal spray","seg":"a","t":2022.82,"y":570,"lo":552,"hi":588},{"series":"Nasal spray","seg":"a","t":2022.88,"y":580,"lo":562,"hi":598},{"series":"Nasal spray","seg":"a","t":2022.93,"y":591,"lo":573,"hi":609},{"series":"Nasal spray","seg":"a","t":2023.0,"y":606,"lo":588,"hi":624}
]
},
"vconcat": [
{
"width": 1831,
"height": 989,
"layer": [
{
"data": {"name": "zeros"},
"mark": {"type": "rule", "strokeWidth": 2, "opacity": 0.35, "clip": true},
"encoding": {
"x": {"field": "t0", "type": "quantitative", "scale": {"domain": [2004.595, 2023.742], "nice": false, "zero": false},
"axis": {"values": [2005,2006,2007,2008,2009,2010,2011,2012,2013,2014,2015,2016,2017,2018,2019,2020,2021,2022,2023], "labels": false, "title": "Year", "titlePadding": 9}},
"x2": {"field": "t1"},
"y": {"datum": 0, "type": "quantitative", "scale": {"domain": [-48, 938.5], "nice": false, "zero": false},
"axis": {"values": [0, 200, 400, 600, 800], "format": "d", "title": "Doses Dispensed per Month", "titlePadding": 14}},
"color": {"field": "series", "type": "nominal", "scale": {"domain": ["10 mL vial", "1 mL vial", "Nasal spray"], "range": ["#EC8A5C", "#244B4D", "#5CC1C3"]},
"legend": {"title": null, "orient": "none", "legendX": 36, "legendY": 20, "symbolType": "M-2,0H2", "symbolStrokeWidth": 3.5, "symbolSize": 870, "labelFontSize": 27, "labelFont": "DejaVu Sans", "labelColor": "#222222", "rowPadding": 11, "labelOffset": 32, "padding": 0, "symbolOpacity": 1,
"encode": {"symbols": {"update": {"opacity": {"value": 1}, "strokeOpacity": {"value": 1}, "fillOpacity": {"value": 0}}}}}}
}
},
{
"data": {"name": "smooth"},
"mark": {"type": "area", "opacity": 0.3, "clip": true},
"encoding": {
"x": {"field": "t", "type": "quantitative"},
"y": {"field": "lo", "type": "quantitative"},
"y2": {"field": "hi"},
"color": {"field": "series", "type": "nominal"},
"detail": {"field": "seg"}
}
},
{
"data": {"name": "smooth"},
"mark": {"type": "line", "strokeWidth": 2.2, "clip": true},
"encoding": {
"x": {"field": "t", "type": "quantitative"},
"y": {"field": "y", "type": "quantitative"},
"color": {"field": "series", "type": "nominal"},
"detail": {"field": "seg"}
}
},
{
"data": {"name": "points"},
"mark": {"type": "circle", "size": 44, "opacity": 1, "clip": true},
"encoding": {
"x": {"field": "t", "type": "quantitative"},
"y": {"field": "v", "type": "quantitative"},
"color": {"field": "series", "type": "nominal"}
}
}
]
},
{
"width": 1831,
"height": 174,
"layer": [
{
"data": {"name": "points"},
"transform": [{"aggregate": [{"op": "sum", "field": "v", "as": "total"}], "groupby": ["t"]}],
"mark": {"type": "area", "color": "#FDC765", "opacity": 1, "clip": true},
"encoding": {
"x": {"field": "t", "type": "quantitative", "scale": {"domain": [2004.595, 2023.742], "nice": false, "zero": false},
"axis": {"values": [2005,2006,2007,2008,2009,2010,2011,2012,2013,2014,2015,2016,2017,2018,2019,2020,2021,2022,2023], "format": "d", "labelPadding": 11, "title": null}},
"y": {"field": "total", "type": "quantitative", "scale": {"domain": [-51, 1216], "nice": false, "zero": false},
"axis": {"values": [0, 500, 1000], "format": "d", "title": "Monthly Total", "titlePadding": 16}},
"y2": {"datum": 0}
}
},
{
"data": {"name": "marker"},
"mark": {"type": "rule", "color": "#C00000", "strokeWidth": 3.5, "strokeDash": [4, 10.5]},
"encoding": {
"x": {"field": "t", "type": "quantitative"}
}
}
]
}
],
"config": {
"font": "DejaVu Sans",
"view": {"stroke": "#333333", "strokeWidth": 2},
"axis": {"labelFont": "DejaVu Sans", "titleFont": "DejaVu Sans", "labelFontSize": 27, "titleFontSize": 27, "labelColor": "#222222", "titleColor": "#222222", "titleFontWeight": "normal", "tickColor": "#333333", "tickWidth": 2, "tickSize": 10, "domain": false, "grid": false, "labelPadding": 11}
}
}
